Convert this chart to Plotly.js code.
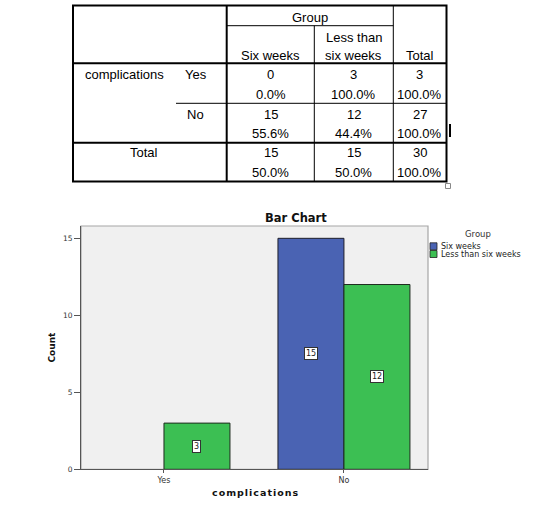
<!DOCTYPE html>
<html>
<head>
<meta charset="utf-8">
<script src="https://cdn.plot.ly/plotly-3.0.1.min.js"></script>
<style>html,body{margin:0;padding:0;background:#fff;}#chart{width:541px;height:516px;}</style>
</head>
<body>
<div id="chart"></div>
<script>
// ---- data ----
const categories = ["Yes", "No"];
const groupNames = ["Six weeks", "Less than six weeks"];
const sixWeeks = [0, 15];
const lessThanSix = [3, 12];
const rowTotals = [3, 27];
const colTotals = [15, 15];
const grandTotal = 30;
const pctSixWeeks = ["0.0%", "55.6%"];
const pctLessThanSix = ["100.0%", "44.4%"];
const pctRowTotals = ["100.0%", "100.0%"];
const pctColTotals = ["50.0%", "50.0%"];
const pctGrandTotal = "100.0%";
const yTicks = [0, 5, 10, 15];

// ---- layout helpers ----
const W = 541, H = 516;
const px = x => x / W;
const py = y => 1 - y / H;
const BLUE = "#4a63b3", GREEN = "#3cbf53";
const BARGAP = 0.2667;

const annotations = [];
const shapes = [];
function txt(x, y, text, opts) {
  opts = opts || {};
  annotations.push(Object.assign({
    xref: "paper", yref: "paper", x: px(x), y: py(y), text: text, showarrow: false,
    xanchor: "center", yanchor: "middle",
    font: {family: "Liberation Sans, Arial, sans-serif", size: 13, color: "#000"}
  }, opts));
}
function line(x0, y0, x1, y1, w, c) {
  shapes.push({type: "line", xref: "paper", yref: "paper",
    x0: px(x0), y0: py(y0), x1: px(x1), y1: py(y1),
    line: {color: c || "#000", width: w}});
}

// ---- crosstab table ----
const T = {l: 73, r: 446.5, t: 5.5, b: 181.5, c1: 226.7, c2: 314.3, c3: 393.3,
  hGroup: 25.7, hHead: 63.3, hYes: 103.3, hNo: 142.7, rowLblLeft: 176};
shapes.push({type: "rect", xref: "paper", yref: "paper", x0: px(T.l), x1: px(T.r), y0: py(T.t), y1: py(T.b), line: {color: "#000", width: 2}});
line(T.c1, T.t, T.c1, T.b, 2);
line(T.c2, T.hGroup, T.c2, T.b, 1);
line(T.c3, T.t, T.c3, T.b, 1);
line(T.c1, T.hGroup, T.c3, T.hGroup, 1);
line(T.l, T.hHead, T.r, T.hHead, 2);
line(T.rowLblLeft, T.hYes, T.r, T.hYes, 1);
line(T.l, T.hNo, T.r, T.hNo, 2);
// cursor mark and resize handle
shapes.push({type: "rect", xref: "paper", yref: "paper", x0: px(449), x1: px(451), y0: py(124), y1: py(137), fillcolor: "#000", line: {width: 0}});
shapes.push({type: "rect", xref: "paper", yref: "paper", x0: px(445.5), x1: px(450.5), y0: py(183.5), y1: py(188.5), fillcolor: "#fff", line: {color: "#888", width: 1}});

const colX = [270.6, 353.8, 420];
txt(310, 17, "Group");
txt(colX[1], 37.5, "Less than");
txt(colX[0], 55.5, groupNames[0]);
txt(colX[1], 55.5, "six weeks");
txt(colX[2], 55.5, "Total");
txt(83, 74, "complications", {xanchor: "left"});
const rowY = [[74, 94.3], [114.3, 133.3]];
categories.forEach((c, i) => {
  txt(195.5, rowY[i][0], c);
  txt(colX[0], rowY[i][0], String(sixWeeks[i]));
  txt(colX[1], rowY[i][0], String(lessThanSix[i]));
  txt(colX[2], rowY[i][0], String(rowTotals[i]));
  txt(colX[0], rowY[i][1], pctSixWeeks[i]);
  txt(colX[1], rowY[i][1], pctLessThanSix[i]);
  txt(colX[2], rowY[i][1], pctRowTotals[i]);
});
txt(144, 152.5, "Total");
txt(colX[0], 152.5, String(colTotals[0]));
txt(colX[1], 152.5, String(colTotals[1]));
txt(colX[2], 152.5, String(grandTotal));
txt(colX[0], 172.7, pctColTotals[0]);
txt(colX[1], 172.7, pctColTotals[1]);
txt(colX[2], 172.7, pctGrandTotal);

// ---- bar chart ----
const P = {l: 81, r: 428, t: 226, b: 469.3};
const sm = "DejaVu Sans, Verdana, sans-serif";
// plot frame (light)
shapes.push({type: "rect", xref: "paper", yref: "paper", layer: "below",
  x0: px(P.l), x1: px(P.r), y0: py(P.b), y1: py(P.t), fillcolor: "#f0f0f0", line: {color: "#a6a6a6", width: 1.2}});

// value labels
const barW = (1 - BARGAP) / 2;
[sixWeeks, lessThanSix].forEach((series, k) => {
  const off = (k - 0.5) * barW;
  series.forEach((v, i) => {
    if (!v) return;
    annotations.push({xref: "x", yref: "y", x: i + off, y: v / 2, text: String(v), showarrow: false,
      font: {family: sm, size: 8, color: "#222"}, bgcolor: "#fff", bordercolor: "#333", borderwidth: 1, borderpad: 1});
  });
});

// titles
txt(296, 218, "<b>Bar Chart</b>", {font: {family: sm, size: 11.5, color: "#111"}});
txt(255, 492, "<b><span style='letter-spacing:1px'>complications</span></b>", {font: {family: sm, size: 9.5, color: "#111"}});
txt(51, 347.5, "<b>Count</b>", {textangle: -90, font: {family: sm, size: 9, color: "#111"}});

// legend (drawn)
txt(478, 234, "Group", {font: {family: sm, size: 8.5, color: "#333"}});
const legColors = [BLUE, GREEN];
const legY = [246.3, 254];
groupNames.forEach((g, k) => {
  shapes.push({type: "rect", xref: "paper", yref: "paper", x0: px(430), x1: px(437), y0: py(legY[k] - 3.5), y1: py(legY[k] + 3.5),
    fillcolor: legColors[k], line: {color: "#222", width: 0.8}});
  txt(439, legY[k], g, {xanchor: "left", font: {family: sm, size: 8, color: "#222"}});
});

const traces = [
  {type: "bar", name: groupNames[0], x: categories, y: sixWeeks.map(v => v === 0 ? null : v),
   marker: {color: BLUE, line: {color: "#1e1e2a", width: 1}}, hoverinfo: "none"},
  {type: "bar", name: groupNames[1], x: categories, y: lessThanSix.map(v => v === 0 ? null : v),
   marker: {color: GREEN, line: {color: "#1e2a1e", width: 1}}, hoverinfo: "none"}
];

const layout = {
  width: W, height: H, autosize: false,
  margin: {l: 0, r: 0, t: 0, b: 0, pad: 0},
  paper_bgcolor: "#fff", plot_bgcolor: "rgba(0,0,0,0)",
  showlegend: false,
  barmode: "group", bargap: BARGAP, bargroupgap: 0,
  xaxis: {type: "category", domain: [px(P.l), px(P.r)], range: [-0.461, 1.467],
    showgrid: false, zeroline: false, showline: true, linecolor: "#555", linewidth: 1,
    ticks: "outside", ticklen: 3, tickcolor: "#555", tickfont: {family: sm, size: 8, color: "#333"}, fixedrange: true},
  yaxis: {domain: [py(P.b), py(P.t)], range: [0, 15.8], tickvals: yTicks,
    showgrid: false, zeroline: false, showline: true, linecolor: "#555", linewidth: 1,
    ticks: "outside", ticklen: 6, tickcolor: "#555", tickfont: {family: sm, size: 7.5, color: "#333"}, fixedrange: true},
  shapes: shapes,
  annotations: annotations
};

Plotly.newPlot("chart", traces, layout, {staticPlot: true, displayModeBar: false});
</script>
</body>
</html>
